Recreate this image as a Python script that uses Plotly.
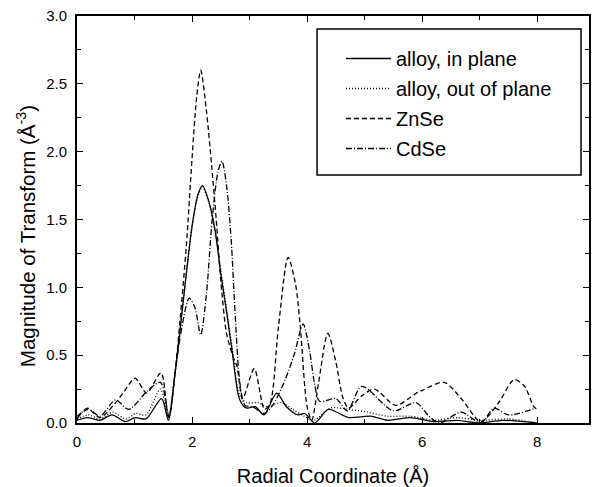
import plotly.graph_objects as go

# --- data ---
alloy_in_x = [0, 0.18, 0.4, 0.61, 0.84, 1.01, 1.2, 1.47, 1.59, 1.7, 1.8, 1.9, 2.0, 2.1, 2.18, 2.28, 2.4, 2.5, 2.6, 2.7, 2.83, 2.95, 3.1, 3.25, 3.47, 3.64, 3.84, 3.96, 4.13, 4.37, 4.72, 5.1, 5.4, 5.8, 6.2, 6.6, 7.0, 7.4, 8.0]
alloy_in_y = [0.02, 0.04, 0.02, 0.06, 0.01, 0.04, 0.03, 0.18, 0.02, 0.35, 0.72, 1.1, 1.45, 1.68, 1.75, 1.65, 1.42, 1.1, 0.82, 0.52, 0.17, 0.11, 0.12, 0.06, 0.22, 0.12, 0.06, 0.07, 0.0, 0.10, 0.04, 0.05, 0.02, 0.04, 0.01, 0.02, 0.0, 0.02, 0.0]

alloy_out_x = [0, 0.2, 0.4, 0.62, 0.85, 1.02, 1.2, 1.45, 1.59, 1.7, 1.8, 1.9, 2.0, 2.1, 2.18, 2.28, 2.4, 2.5, 2.6, 2.7, 2.83, 2.95, 3.15, 3.3, 3.55, 3.75, 3.95, 4.12, 4.4, 4.73, 5.05, 5.4, 5.8, 6.2, 6.6, 7.0, 7.5, 8.0]
alloy_out_y = [0.03, 0.06, 0.03, 0.08, 0.03, 0.07, 0.06, 0.25, 0.03, 0.36, 0.72, 1.1, 1.45, 1.67, 1.74, 1.64, 1.42, 1.12, 0.84, 0.55, 0.2, 0.15, 0.15, 0.12, 0.15, 0.1, 0.05, 0.02, 0.11, 0.1, 0.08, 0.05, 0.05, 0.02, 0.04, 0.02, 0.03, 0.0]

znse_x = [0, 0.2, 0.4, 0.65, 0.8, 1.01, 1.21, 1.46, 1.59, 1.7, 1.8, 1.9, 2.0, 2.08, 2.15, 2.25, 2.34, 2.42, 2.5, 2.6, 2.72, 2.78, 2.88, 3.08, 3.26, 3.36, 3.5, 3.67, 3.8, 3.88, 4.0, 4.08, 4.2, 4.36, 4.5, 4.62, 4.72, 4.95, 5.17, 5.54, 5.9, 6.0, 6.38, 6.7, 7.02, 7.33, 7.6, 7.78, 7.94, 8.0]
znse_y = [0.05, 0.1, 0.04, 0.14, 0.22, 0.33, 0.22, 0.37, 0.04, 0.35, 0.8, 1.3, 1.95, 2.4, 2.6, 2.3, 1.9, 1.5, 1.05, 0.66, 0.48, 0.42, 0.18, 0.4, 0.1, 0.15, 0.7, 1.22, 1.02, 0.72, 0.12, 0.02, 0.3, 0.66, 0.45, 0.19, 0.11, 0.2, 0.25, 0.13, 0.22, 0.24, 0.30, 0.17, 0.01, 0.15, 0.32, 0.27, 0.12, 0.10]

cdse_x = [0, 0.18, 0.4, 0.67, 0.9, 1.21, 1.45, 1.6, 1.7, 1.8, 1.95, 2.05, 2.15, 2.25, 2.35, 2.45, 2.52, 2.6, 2.68, 2.75, 2.83, 2.92, 3.05, 3.26, 3.4, 3.6, 3.78, 3.93, 4.04, 4.13, 4.22, 4.5, 4.7, 4.95, 5.5, 5.89, 6.12, 6.3, 6.68, 7.02, 7.25, 7.5, 7.98]
cdse_y = [0.03, 0.11, 0.05, 0.17, 0.1, 0.23, 0.3, 0.05, 0.35, 0.65, 0.92, 0.85, 0.65, 0.95, 1.5, 1.85, 1.93, 1.75, 1.35, 0.8, 0.3, 0.13, 0.12, 0.07, 0.13, 0.3, 0.51, 0.73, 0.54, 0.29, 0.16, 0.18, 0.09, 0.27, 0.09, 0.15, 0.05, 0.0, 0.08, 0.0, 0.11, 0.06, 0.11]

series = [
    ("alloy, in plane", alloy_in_x, alloy_in_y, "solid"),
    ("alloy, out of plane", alloy_out_x, alloy_out_y, "1px,2px"),
    ("ZnSe", znse_x, znse_y, "5px,3px"),
    ("CdSe", cdse_x, cdse_y, "6px,2px,1px,2px"),
]

FONT = "Arial, Liberation Sans, Helvetica, sans-serif"

fig = go.Figure()
for i, (name, xs, ys, dash) in enumerate(series):
    fig.add_trace(go.Scatter(
        x=xs, y=ys, mode="lines", name=name,
        line=dict(color="black", width=1.3, dash=dash, shape="spline", smoothing=0.8),
        legendgroup=f"g{i}",
    ))

W, H = 592, 487
L, R, T, B = 77, 1, 16, 64
PW, PH = W - L - R, H - T - B

fig.update_layout(
    width=W, height=H,
    margin=dict(l=L, r=R, t=T, b=B),
    paper_bgcolor="white", plot_bgcolor="white",
    font=dict(family=FONT, color="black", size=15),
    showlegend=True,
    legend=dict(
        x=(342 - L) / PW, y=(423 - 39) / PH,
        xanchor="left", yanchor="top",
        bgcolor="rgba(0,0,0,0)", borderwidth=0,
        font=dict(size=20, family=FONT),
        tracegroupgap=1, itemwidth=45,
    ),
    shapes=[dict(
        type="rect", xref="paper", yref="paper",
        x0=(318 - L) / PW, x1=(583 - L) / PW,
        y0=(423 - 175) / PH, y1=(423 - 29) / PH,
        line=dict(color="black", width=1.5), fillcolor="white", layer="below",
    )],
    annotations=[dict(
        text="Magnitude of Transform (Å<sup>-3</sup>)",
        xref="paper", yref="paper",
        x=(26 - L) / PW, y=(423 - 236) / PH,
        xanchor="center", yanchor="middle", textangle=-90,
        showarrow=False, font=dict(size=20.5, family=FONT),
    )],
)

fig.update_xaxes(
    range=[0, PW / 57.75], tickvals=[0, 2, 4, 6, 8],
    ticks="inside", ticklen=6, tickwidth=1.2, tickcolor="black",
    minor=dict(tickvals=[1, 3, 5, 7], ticks="inside", ticklen=4, tickwidth=1.2, tickcolor="black"),
    showline=True, linecolor="black", linewidth=1.8, mirror="ticks",
    showgrid=False, zeroline=False,
    tickfont=dict(size=15), ticklabelstandoff=4,
    title=dict(text="Radial Coordinate (Å)", font=dict(size=20), standoff=20),
)
fig.update_yaxes(
    range=[0, 3], tickvals=[0, 0.5, 1.0, 1.5, 2.0, 2.5, 3.0], tickformat=".1f",
    ticks="inside", ticklen=6, tickwidth=1.2, tickcolor="black",
    minor=dict(tickvals=[0.25, 0.75, 1.25, 1.75, 2.25, 2.75], ticks="inside", ticklen=4, tickwidth=1.2, tickcolor="black"),
    showline=True, linecolor="black", linewidth=1.8, mirror="ticks",
    showgrid=False, zeroline=False,
    tickfont=dict(size=15), ticklabelstandoff=5,
)

fig.write_html("out.html")
